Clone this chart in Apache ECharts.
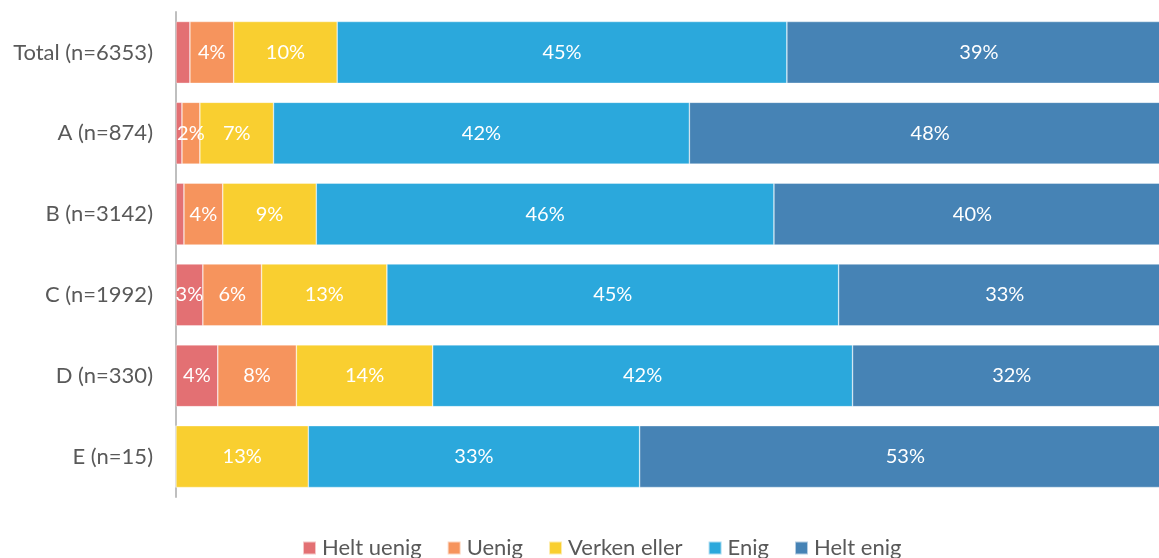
<!DOCTYPE html>
<html>
<head>
<meta charset="utf-8">
<script src="https://cdn.jsdelivr.net/npm/echarts@6/dist/echarts.min.js"></script>
<style>
  html, body { margin: 0; padding: 0; background: #fff; overflow: hidden; }
  #chart { width: 1159px; height: 558px; }
</style>
</head>
<body>
<div id="chart"></div>
<script>
// Survey groups, top to bottom
const categories = ['Total (n=6353)', 'A (n=874)', 'B (n=3142)', 'C (n=1992)', 'D (n=330)', 'E (n=15)'];

// Share of answers per group (%)
const heltUenig   = [1.4, 0.6, 0.8, 2.7, 4.2, 0];
const uenig       = [4.4, 1.8, 3.9, 5.9, 7.9, 0];
const verkenEller = [10.4, 7.4, 9.4, 12.6, 13.7, 13.3];
const enig        = [45.2, 41.8, 46.0, 45.4, 42.2, 33.3];
const heltEnig    = [38.6, 48.4, 39.9, 33.4, 32.0, 53.4];

const seriesNames = ['Helt uenig', 'Uenig', 'Verken eller', 'Enig', 'Helt enig'];
const seriesData = [heltUenig, uenig, verkenEller, enig, heltEnig];
const colors = ['#E37073', '#F6945D', '#F9CF30', '#2BA8DC', '#4683B5'];

const FONT = 'Lato';

const chart = echarts.init(document.getElementById('chart'), null, { renderer: 'canvas' });

chart.setOption({
  animation: false,
  textStyle: { fontFamily: FONT },
  color: colors,
  grid: { left: 176, right: 0, top: 12, bottom: 61, containLabel: false },
  legend: {
    data: seriesNames,
    left: 297,
    top: 532,
    itemWidth: 13,
    itemHeight: 13,
    itemGap: 25,
    icon: 'rect',
    textStyle: { fontFamily: FONT, fontSize: 22, color: '#595959', padding: [0, 0, 0, 1] }
  },
  // the 100% end of the scale lies just past the right edge of the canvas
  xAxis: {
    type: 'value',
    min: 0,
    max: 98.8,
    show: false
  },
  yAxis: {
    type: 'category',
    data: categories,
    inverse: true,
    axisLine: { show: true, lineStyle: { color: '#BFBFBF', width: 2 } },
    axisTick: { show: false },
    axisLabel: { fontFamily: FONT, fontSize: 22, color: '#595959', margin: 23 }
  },
  series: seriesNames.map((name, i) => ({
    name: name,
    type: 'bar',
    stack: 'total',
    barCategoryGap: '23.5%',
    clip: false,
    data: seriesData[i],
    itemStyle: { color: colors[i], borderColor: 'rgba(255,255,255,0.6)', borderWidth: 0.6 },
    label: {
      show: true,
      position: 'inside',
      color: '#ffffff',
      fontFamily: FONT,
      fontSize: 20,
      formatter: p => (Math.round(p.value) >= 2 ? Math.round(p.value) + '%' : '')
    }
  }))
});
</script>
</body>
</html>
